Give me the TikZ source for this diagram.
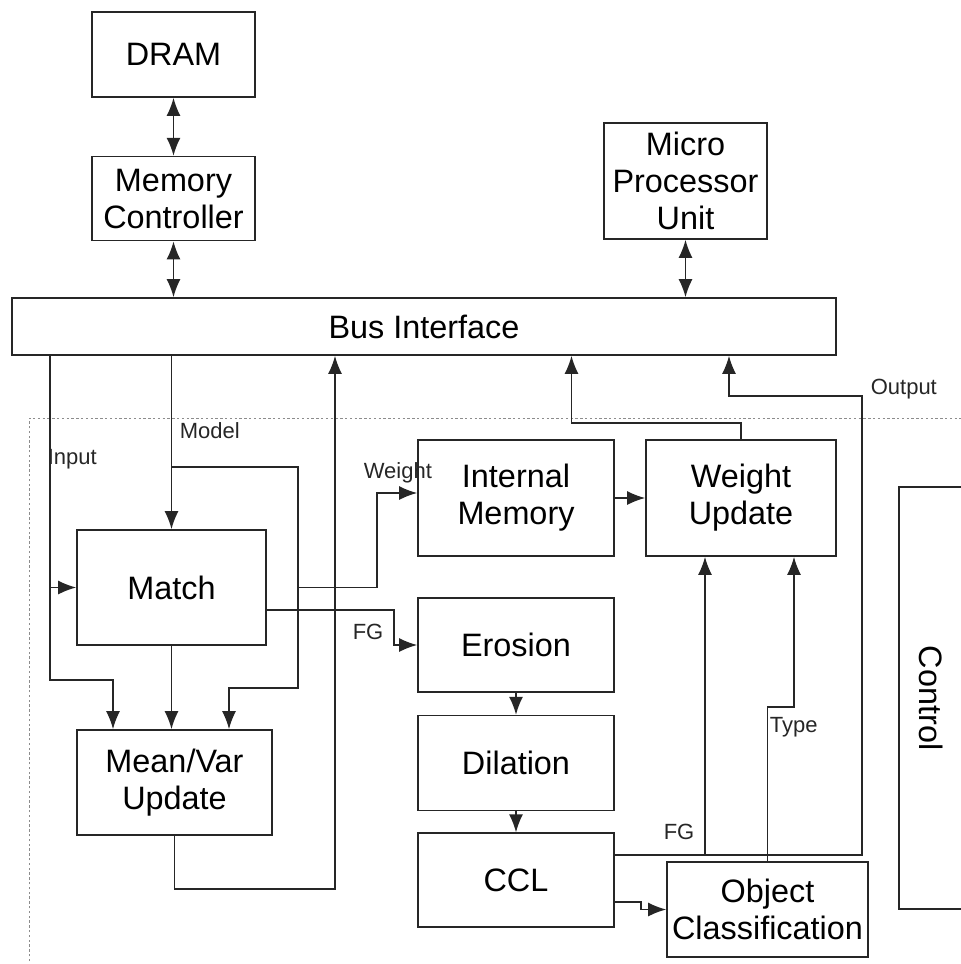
\documentclass[tikz,border=0pt]{standalone}
\usepackage{fontspec}
\setmainfont{Liberation Sans}
\usetikzlibrary{arrows.meta,calc,positioning}

\begin{document}
\begin{tikzpicture}[x=0.5pt,y=-0.5pt,>={Latex[length=9pt,width=7pt]},line width=0.8pt,
    every node/.style={align=center},
    blk/.style={draw=black!85,inner sep=1pt,font=\fontsize{16.2}{18.5}\selectfont},
    lbl/.style={anchor=west,inner sep=0pt,text=black!85,font=\fontsize{11}{13}\selectfont},
    wire/.style={draw=black!85,->}]
    \useasboundingbox (0,0) rectangle (961,964);
    \clip (0,0) rectangle (961,964);
    % system side
    \node[blk,minimum width=81.5pt,minimum height=42.5pt] (dram) at (173.5,54.5) {DRAM};
    \node[blk,minimum width=81.5pt,minimum height=42pt,below=29pt of dram] (memctl) {Memory\\Controller};
    \node[blk,minimum width=81.5pt,minimum height=58pt] (mpu) at (685.5,181) {Micro\\Processor\\Unit};
    \node[blk,minimum width=412pt,minimum height=28.5pt] (bus) at (424,326.5) {Bus Interface};
    % accelerator area
    \draw[draw=black!45,line width=0.5pt,dash pattern=on 1.2pt off 1.2pt] (29,990) |- (990,418);
    \node[blk,minimum width=94.5pt,minimum height=57.5pt] (match) at (171.5,587.5) {Match};
    \node[blk,minimum width=97.5pt,minimum height=52.5pt] (mv) at (174.5,782.5) {Mean/Var\\Update};
    \node[blk,minimum width=98pt,minimum height=58pt] (intmem) at (516,498) {Internal\\Memory};
    \node[blk,minimum width=95pt,minimum height=58pt] (wupd) at (741,498) {Weight\\Update};
    \node[blk,minimum width=98pt,minimum height=47pt] (erosion) at (516,645) {Erosion};
    \node[blk,minimum width=98pt,minimum height=47.5pt,below=11pt of erosion] (dilation) {Dilation};
    \node[blk,minimum width=98pt,minimum height=47pt,below=10.5pt of dilation] (ccl) {CCL};
    \node[blk,minimum width=100.5pt,minimum height=47.5pt] (objcls) at (767.5,909.5) {Object\\Classification};
    \node[blk,rotate=-90,minimum width=211pt,minimum height=32pt] (ctrl) at (931,698) {Control};
    % tap points
    \coordinate (inp) at (50,355);
    \coordinate (mtap) at (171.5,467);
    \coordinate (bx1) at (335,0);
    \coordinate (bx2) at (571.5,0);
    \coordinate (bx3) at (729,0);
    \coordinate (outc) at (862,396);
    \coordinate (fgx) at (705,0);
    % connectors
    \draw[wire,<->] (dram) -- (memctl);
    \draw[wire,<->] (memctl.south) -- (memctl.south |- bus.north);
    \draw[wire,<->] (mpu.south) -- (mpu.south |- bus.north);
    \draw[wire] (inp) -- ++(0,325) -| ($(mv.north)+(-61.5,0)$);
    \draw[wire] (inp |- match.west) -- (match.west);
    \draw[wire] (match.north |- bus.south) -- (match.north);
    \draw[wire] (mtap) -- ++(126.5,0) coordinate (mright) -- ++(0,221) -| ($(mv.north)+(54.5,0)$);
    \draw[wire] (mright |- match.east) -- ++(79,0) |- ($(intmem.west)+(0,-5)$);
    \draw[wire] ($(match.east)+(0,22.5)$) -- ++(127,0) |- (erosion.west);
    \draw[wire] (match.south) -- (match.south |- mv.north);
    \draw[wire] (mv.south) -- ++(0,53) -| (bus.south -| bx1);
    \draw[wire] (intmem) -- (wupd);
    \draw[wire] (wupd.north) -- ++(0,-16.5) -| (bus.south -| bx2);
    \draw[wire] ($(ccl.east)+(0,-25)$) coordinate (fgs) -| (outc) -| (bus.south -| bx3);
    \draw[wire] (fgs -| fgx) -- (fgx |- wupd.south);
    \draw[wire] (objcls.north) -- ++(0,-154) -| ($(wupd.south)+(53,0)$);
    \draw[wire] ($(ccl.east)+(0,22)$) -- ++(26,0) |- (objcls.west);
    \draw[wire] (erosion) -- (dilation);
    \draw[wire] (dilation) -- (ccl);
    % labels
    \node[lbl] (linput) at (47,459) {Input};
    \node[lbl] (lmodel) at (179,431) {Model};
    \node[lbl] (lweight) at (363,473) {Weight};
    \node[lbl] (lfg1) at (352,632) {FG};
    \node[lbl] (loutput) at (870,389) {Output};
    \node[lbl] (lfg2) at (663,832) {FG};
    \node[lbl] (ltype) at (769,727) {Type};
\end{tikzpicture}
\end{document}
